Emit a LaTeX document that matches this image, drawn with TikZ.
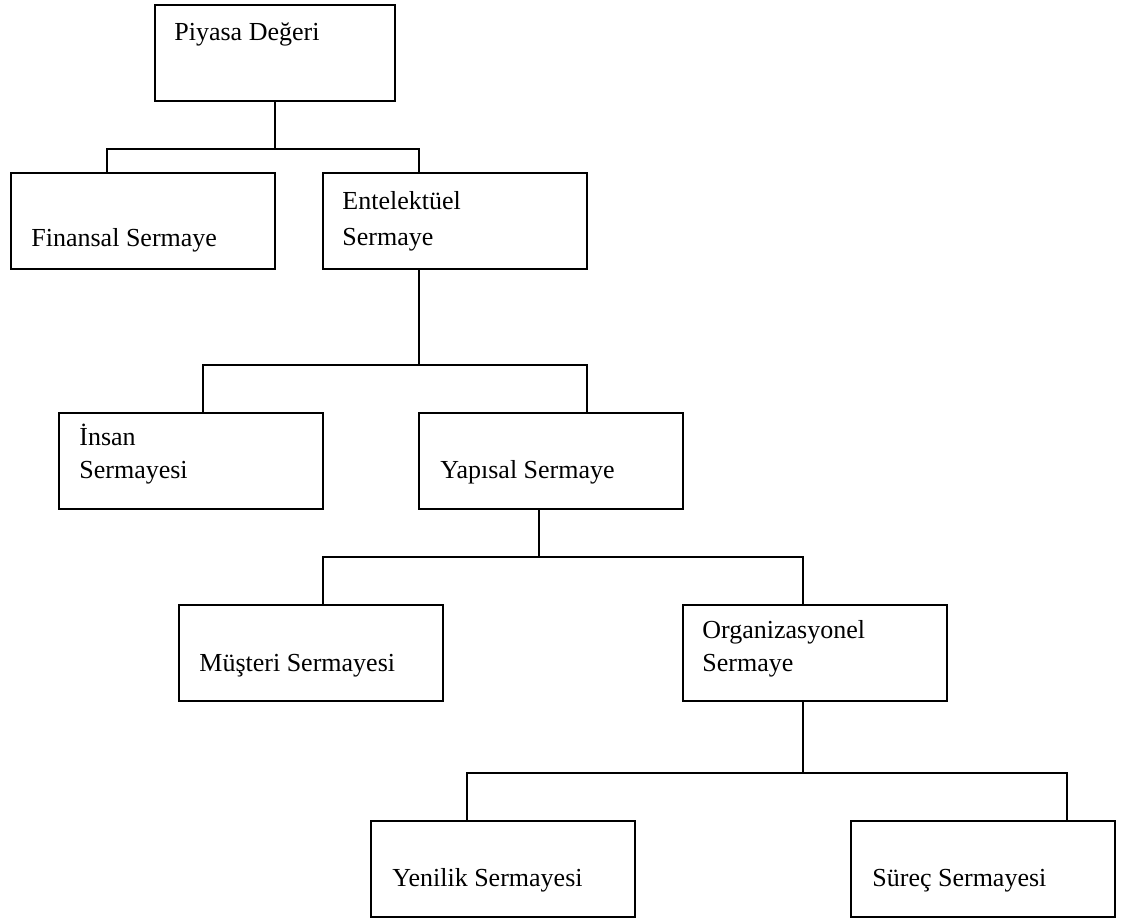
\documentclass[tikz,border=0pt]{standalone}
\usepackage{fontspec}
\setmainfont{Liberation Serif}
\tikzset{
  kutu/.style={rectangle,draw,line width=1pt,minimum width=132pt,minimum height=48pt,inner sep=0pt},
  yazi/.style={anchor=base west,align=left,inner sep=0pt,font=\fontsize{13}{16.5}\selectfont},
  hat/.style={line width=1pt}
}
\begin{document}
\begin{tikzpicture}[x=0.5pt,y=-0.5pt]
  \useasboundingbox (0,0) rectangle (1136,918);

  % kutular
  \node[kutu,minimum width=120pt] (piyasa) at (275,53) {};
  \node[kutu] (finansal) at (143,220.5) {};
  \node[kutu] (entel) at (455,220.5) {};
  \node[kutu] (insan) at (191,460.5) {};
  \node[kutu] (yapisal) at (551,460.5) {};
  \node[kutu] (musteri) at (311,653) {};
  \node[kutu] (org) at (815,653) {};
  \node[kutu] (yenilik) at (503,869) {};
  \node[kutu] (surec) at (983,869) {};

  % yazilar (cok satirlilarda son satirin tabani)
  \node[yazi] (piyasaT) at ([shift={(20,36)}]piyasa.north west) {Piyasa Değeri};
  \node[yazi] (finansalT) at ([shift={(21,75)}]finansal.north west) {Finansal Sermaye};
  \node[yazi] (entelT) at ([shift={(20,74)}]entel.north west) {Entelektüel\\[1.5pt]Sermaye};
  \node[yazi] (insanT) at ([shift={(21,67)}]insan.north west) {İnsan\\Sermayesi};
  \node[yazi] (yapisalT) at ([shift={(22,67)}]yapisal.north west) {Yapısal Sermaye};
  \node[yazi] (musteriT) at ([shift={(21,67)}]musteri.north west) {Müşteri Sermayesi};
  \node[yazi] (orgT) at ([shift={(20,67)}]org.north west) {Organizasyonel\\Sermaye};
  \node[yazi] (yenilikT) at ([shift={(22,66)}]yenilik.north west) {Yenilik Sermayesi};
  \node[yazi] (surecT) at ([shift={(22,66)}]surec.north west) {Süreç Sermayesi};

  % baglantilar
  \coordinate (d1) at (275,149);
  \coordinate (d2) at (419,365);
  \coordinate (d3) at (539,557);
  \coordinate (d4) at (803,773);

  \draw[hat] (piyasa) -- (d1);
  \draw[hat] (finansal.north -| 107,0) |- (d1) -| (entel.north -| 419,0);

  \draw[hat] (entel.south -| d2) -- (d2);
  \draw[hat] (insan.north -| 203,0) |- (d2) -| (yapisal.north -| 587,0);

  \draw[hat] (yapisal.south -| d3) -- (d3);
  \draw[hat] (musteri.north -| 323,0) |- (d3) -| (org.north -| 803,0);

  \draw[hat] (org.south -| d4) -- (d4);
  \draw[hat] (yenilik.north -| 467,0) |- (d4) -| (surec.north -| 1067,0);
\end{tikzpicture}
\end{document}
